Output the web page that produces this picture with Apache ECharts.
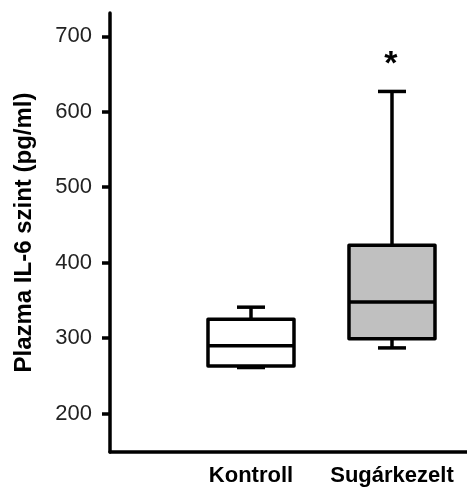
<!DOCTYPE html>
<html>
<head>
<meta charset="utf-8">
<script src="https://cdn.jsdelivr.net/npm/echarts@6/dist/echarts.min.js"></script>
<style>
html,body{margin:0;padding:0;background:#fff;}
#chart{width:467px;height:490px;}
</style>
</head>
<body>
<div id="chart"></div>
<script>
// Data
const categories = ['Kontroll', 'Sugárkezelt'];
// [lower whisker, Q1, median, Q3, upper whisker] in pg/ml
const boxValues = [
  [261, 263, 290, 325, 341],
  [287, 299, 348, 423, 627]
];
const significance = ['', '*'];
const yTickValues = [200, 300, 400, 500, 600, 700];
const boxFills = ['#ffffff', '#c0c0c0'];

const FONT = '"Liberation Sans", Arial, sans-serif';

const chart = echarts.init(document.getElementById('chart'));
const seriesData = categories.map((c, i) => [i + 1].concat(boxValues[i]));

chart.setOption({
  animation: false,
  backgroundColor: '#ffffff',
  grid: { left: 110, right: 0, top: 13, bottom: 38 },
  xAxis: {
    type: 'value',
    min: 0,
    max: 2.532,
    splitLine: { show: false },
    axisTick: { show: false },
    axisLine: { onZero: false, lineStyle: { color: '#000', width: 3.5 } },
    axisLabel: {
      customValues: [1, 2],
      formatter: v => categories[Math.round(v) - 1] || '',
      color: '#000',
      fontFamily: FONT,
      fontWeight: 'bold',
      fontSize: 22,
      margin: 13
    }
  },
  yAxis: {
    type: 'value',
    min: 149,
    max: 731,
    splitLine: { show: false },
    name: 'Plazma IL-6 szint (pg/ml)',
    nameLocation: 'middle',
    nameGap: 74,
    nameTextStyle: { color: '#000', fontFamily: FONT, fontWeight: 'bold', fontSize: 24 },
    axisLine: { onZero: false, lineStyle: { color: '#000', width: 3.5 } },
    axisTick: { customValues: yTickValues, length: 8, lineStyle: { color: '#000', width: 3.5 } },
    axisLabel: {
      customValues: yTickValues,
      color: '#222',
      fontFamily: FONT,
      fontSize: 22,
      margin: 18
    }
  },
  series: [{
    type: 'custom',
    data: seriesData,
    clip: false,
    renderItem: function (params, api) {
      const x = api.value(0);
      const lo = api.coord([x, api.value(1)]);
      const q1 = api.coord([x, api.value(2)]);
      const med = api.coord([x, api.value(3)]);
      const q3 = api.coord([x, api.value(4)]);
      const hi = api.coord([x, api.value(5)]);
      const bw = 86, cw = 28, cx = lo[0];
      const st = { stroke: '#000', lineWidth: 3.5, lineJoin: 'round', lineCap: 'butt' };
      const children = [
        { type: 'line', shape: { x1: cx, y1: q3[1], x2: cx, y2: hi[1] }, style: st },
        { type: 'line', shape: { x1: cx - cw / 2, y1: hi[1], x2: cx + cw / 2, y2: hi[1] }, style: st },
        { type: 'line', shape: { x1: cx, y1: q1[1], x2: cx, y2: lo[1] }, style: st },
        { type: 'line', shape: { x1: cx - cw / 2, y1: lo[1], x2: cx + cw / 2, y2: lo[1] }, style: st },
        { type: 'rect', shape: { x: cx - bw / 2, y: q3[1], width: bw, height: q1[1] - q3[1] },
          style: Object.assign({ fill: boxFills[params.dataIndex] }, st) },
        { type: 'line', shape: { x1: cx - bw / 2, y1: med[1], x2: cx + bw / 2, y2: med[1] }, style: st }
      ];
      const sig = significance[params.dataIndex];
      if (sig) {
        children.push({
          type: 'text',
          style: {
            text: sig, x: cx - 1, y: hi[1] - 27,
            fill: '#000', font: 'bold 34px ' + FONT,
            align: 'center', verticalAlign: 'middle'
          }
        });
      }
      return { type: 'group', children: children };
    }
  }]
});
</script>
</body>
</html>
